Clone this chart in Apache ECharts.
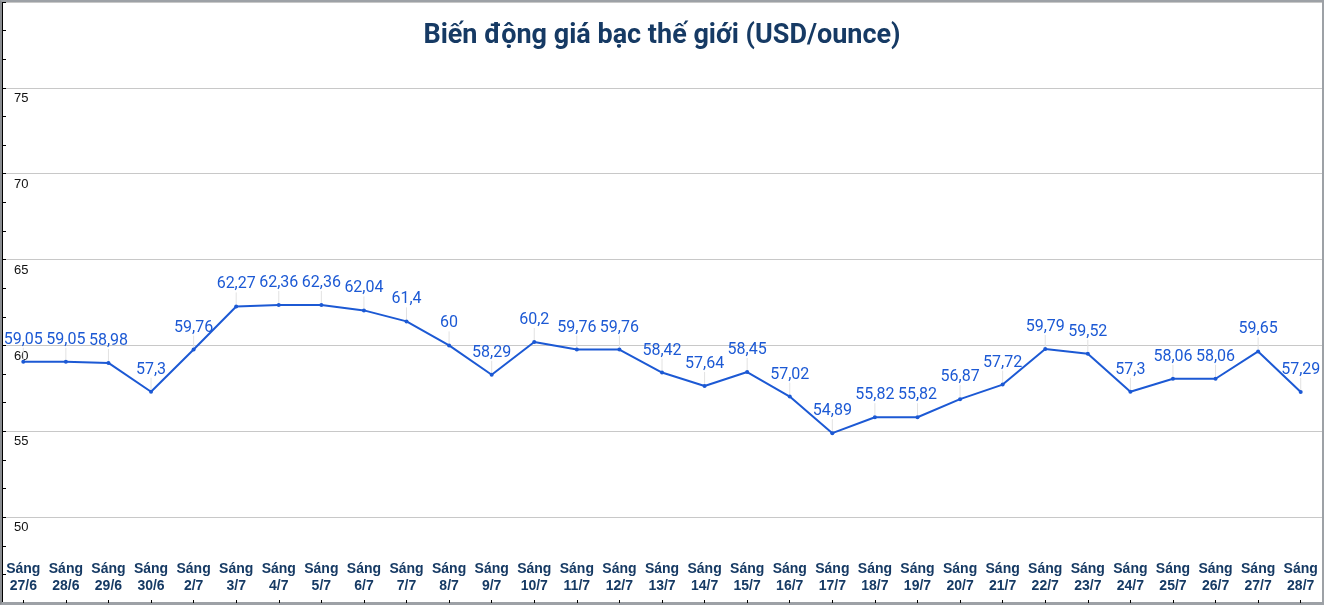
<!DOCTYPE html>
<html>
<head>
<meta charset="utf-8">
<script src="https://cdn.jsdelivr.net/npm/echarts@6/dist/echarts.min.js"></script>
<style>
html,body{margin:0;padding:0;background:#fff;}
#wrap{width:1324px;height:605px;box-sizing:border-box;border:2px solid #9da1a6;border-left-color:#8a8d91;}
#chart{width:1320px;height:601px;}
</style>
</head>
<body>
<div id="wrap"><div id="chart"></div></div>
<script>
const titleText = 'Biến động giá bạc thế giới (USD/ounce)';
const categories = ['Sáng\n27/6','Sáng\n28/6','Sáng\n29/6','Sáng\n30/6','Sáng\n2/7','Sáng\n3/7','Sáng\n4/7','Sáng\n5/7','Sáng\n6/7','Sáng\n7/7','Sáng\n8/7','Sáng\n9/7','Sáng\n10/7','Sáng\n11/7','Sáng\n12/7','Sáng\n13/7','Sáng\n14/7','Sáng\n15/7','Sáng\n16/7','Sáng\n17/7','Sáng\n18/7','Sáng\n19/7','Sáng\n20/7','Sáng\n21/7','Sáng\n22/7','Sáng\n23/7','Sáng\n24/7','Sáng\n25/7','Sáng\n26/7','Sáng\n27/7','Sáng\n28/7'];
const prices = [59.05,59.05,58.98,57.3,59.76,62.27,62.36,62.36,62.04,61.4,60,58.29,60.2,59.76,59.76,58.42,57.64,58.45,57.02,54.89,55.82,55.82,56.87,57.72,59.79,59.52,57.3,58.06,58.06,59.65,57.29];
const yMin = 45, yMax = 80, yStep = 5;

const chart = echarts.init(document.getElementById('chart'), null, {renderer:'canvas'});
chart.setOption({
  animation:false,
  backgroundColor:'#ffffff',
  title:{
    text:titleText, left:'center', top:16,
    textStyle:{fontFamily:'Roboto', fontWeight:'bold', fontSize:27, color:'#163a64'}
  },
  grid:{left:0,right:0,top:0,bottom:0,containLabel:false},
  xAxis:{
    type:'category', data:categories, boundaryGap:true,
    axisLine:{show:true, lineStyle:{color:'#9da1a6', width:2}},
    axisTick:{show:true, alignWithLabel:true, inside:true, length:3, lineStyle:{color:'#000'}},
    axisLabel:{inside:true, interval:0, margin:8, fontFamily:'Liberation Sans', fontWeight:'bold', fontSize:14, lineHeight:17, color:'#163a64'},
    splitLine:{show:false}
  },
  yAxis:{
    type:'value', min:yMin, max:yMax, interval:yStep,
    axisLine:{show:true, lineStyle:{color:'#000', width:2}},
    axisTick:{show:true, inside:true, length:4, lineStyle:{color:'#000'}},
    minorTick:{show:true, splitNumber:3, length:4, lineStyle:{color:'#000'}},
    axisLabel:{inside:true, margin:12, showMinLabel:false, showMaxLabel:false, verticalAlign:'top', padding:[4,0,0,0], fontFamily:'Liberation Sans', fontSize:13, color:'#111'},
    splitLine:{show:true, lineStyle:{color:'#c8c8c8', width:1}}
  },
  series:[{
    type:'line', data:prices,
    symbol:'circle', symbolSize:4,
    lineStyle:{color:'#1c59d4', width:2},
    itemStyle:{color:'#1c59d4'},
    label:{show:true, position:'top', distance:4, fontFamily:'Roboto', fontSize:16, color:'#1c59d4',
      formatter:p => String(p.value).replace('.', ',')},
    labelLayout:{dy:-8},
    labelLine:{show:true, lineStyle:{color:'#e2e2e2', width:1}}
  }]
});
</script>
</body>
</html>
